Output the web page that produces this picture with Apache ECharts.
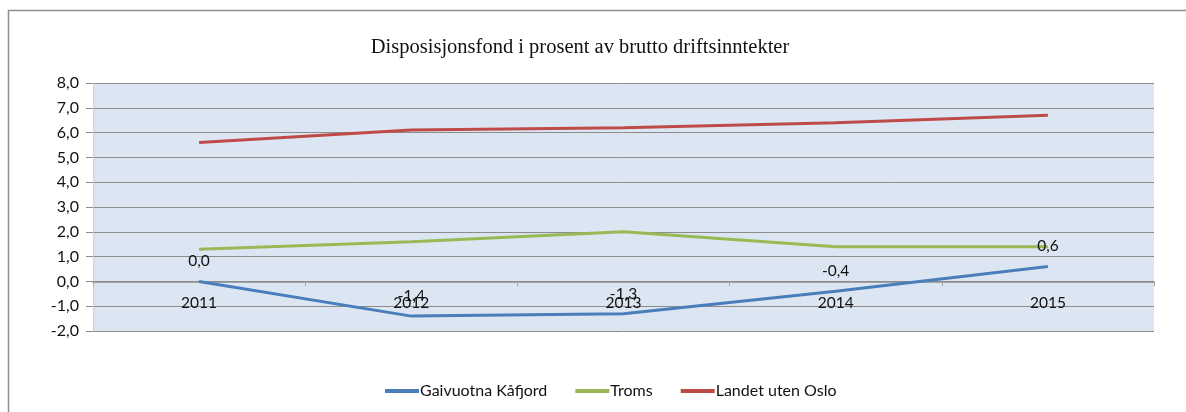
<!DOCTYPE html>
<html>
<head>
<meta charset="utf-8">
<script src="https://cdn.jsdelivr.net/npm/echarts@6/dist/echarts.min.js"></script>
<style>
  html, body { margin: 0; padding: 0; background: #fff; }
  #chart { width: 1186px; height: 412px; }
</style>
</head>
<body>
<div id="chart"></div>
<script>
// data
var years = ['2011', '2012', '2013', '2014', '2015'];
var kafjord = [0.0, -1.4, -1.3, -0.4, 0.6];
var troms = [1.3, 1.6, 2.0, 1.4, 1.4];
var landet = [5.6, 6.1, 6.2, 6.4, 6.7];
var seriesNames = ['Gaivuotna Kåfjord', 'Troms', 'Landet uten Oslo'];

function comma(v) {
  return Number(v).toFixed(1).replace('.', ',');
}

var chart = echarts.init(document.getElementById('chart'));
chart.setOption({
  animation: false,
  textStyle: { fontFamily: 'Lato' },
  graphic: [{
    type: 'rect',
    shape: { x: 8.5, y: 10.5, width: 1300, height: 600 },
    style: { fill: 'none', stroke: '#8e8e8e', lineWidth: 1.5 },
    silent: true
  }],
  title: {
    text: 'Disposisjonsfond i prosent av brutto driftsinntekter',
    left: 575,
    textAlign: 'center',
    top: 32,
    textStyle: { fontFamily: 'Liberation Serif', fontSize: 20.5, fontWeight: 'normal', color: '#111' }
  },
  legend: {
    bottom: 8,
    left: 380,
    itemWidth: 34,
    itemHeight: 4,
    itemGap: 28,
    icon: 'rect',
    textStyle: { fontFamily: 'Lato', fontSize: 16, color: '#111', padding: [0, 0, 0, -4] },
    data: seriesNames
  },
  grid: { left: 93, right: 32, top: 83, bottom: 81, show: true, backgroundColor: '#dce6f2', borderWidth: 0 },
  xAxis: {
    type: 'category',
    data: years,
    boundaryGap: true,
    axisLine: { onZero: true, lineStyle: { color: '#8c8c8c', width: 1.5 } },
    axisTick: { show: true, length: 5, lineStyle: { color: '#aaa' } },
    // labels sit just under the zero line, inside the plot
    axisLabel: { margin: -36, fontSize: 15.5, color: '#111' },
    splitLine: { show: false }
  },
  yAxis: {
    type: 'value',
    min: -2,
    max: 8,
    interval: 1,
    axisLine: { show: true, lineStyle: { color: '#c9d3e0' } },
    axisTick: { show: true, length: 7, lineStyle: { color: '#8c8c8c' } },
    axisLabel: { margin: 14, fontSize: 16, color: '#111', formatter: comma },
    splitLine: { lineStyle: { color: '#8c8c8c', width: 1 } }
  },
  series: [
    {
      name: seriesNames[0],
      type: 'line',
      data: kafjord,
      symbol: 'circle',
      symbolSize: 0.1,
      showSymbol: true,
      color: '#4a7ebb',
      lineStyle: { width: 3 },
      label: {
        show: true,
        position: 'top',
        distance: 12,
        fontSize: 15.5,
        color: '#111',
        formatter: function (p) { return comma(p.value); }
      },
      z: 3
    },
    {
      name: seriesNames[1],
      type: 'line',
      data: troms,
      symbol: 'none',
      color: '#98b954',
      lineStyle: { width: 3 },
      z: 2
    },
    {
      name: seriesNames[2],
      type: 'line',
      data: landet,
      symbol: 'none',
      color: '#be4b48',
      lineStyle: { width: 3 },
      z: 2
    }
  ]
});
</script>
</body>
</html>
